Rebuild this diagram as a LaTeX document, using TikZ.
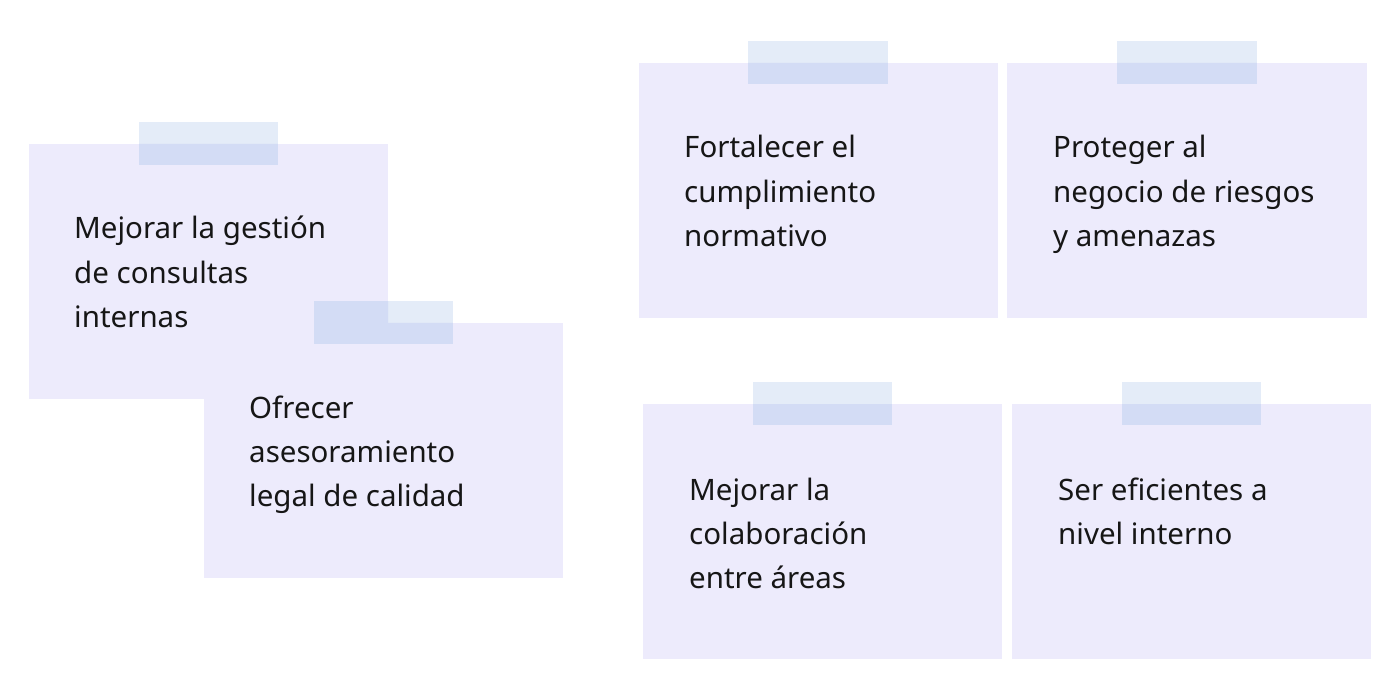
\documentclass[tikz,border=0pt]{standalone}
\usepackage{fontspec}
\setmainfont{Noto Sans}
\definecolor{boxcol}{HTML}{EDEBFC}
\definecolor{tapelight}{HTML}{E4ECF8}
\definecolor{tapedark}{HTML}{D3DCF5}
\definecolor{txtcol}{HTML}{161616}
\begin{document}
\begin{tikzpicture}[x=1pt,y=-1pt,
  card/.style={fill=boxcol,draw=none},
  tapeL/.style={fill=tapelight,draw=none},
  tapeD/.style={fill=tapedark,draw=none},
  lbl/.style={anchor=base west,inner sep=0pt,align=left,text=txtcol,
    font=\fontsize{29.5}{44.3}\selectfont}]
\useasboundingbox[fill=white] (0,0) rectangle (1400,700);
% cards
\path[card] (29,144) rectangle (388,399);
\path[card] (204,323) rectangle (563,578);
\path[card] (639,63) rectangle (998,318);
\path[card] (1007,63) rectangle (1367,318);
\path[card] (643,404) rectangle (1002,659);
\path[card] (1012,404) rectangle (1371,659);
% tapes over white
\path[tapeL] (139,122) rectangle (278,165);
\path[tapeL] (314,301) rectangle (453,344);
\path[tapeL] (748,41) rectangle (888,84);
\path[tapeL] (1117,41) rectangle (1257,84);
\path[tapeL] (753,382) rectangle (892,425);
\path[tapeL] (1122,382) rectangle (1261,425);
% tapes over cards
\begin{scope}
\clip (29,144) rectangle (388,399) (204,323) rectangle (563,578)
      (639,63) rectangle (998,318) (1007,63) rectangle (1367,318)
      (643,404) rectangle (1002,659) (1012,404) rectangle (1371,659);
\path[tapeD] (139,122) rectangle (278,165);
\path[tapeD] (314,301) rectangle (453,344);
\path[tapeD] (748,41) rectangle (888,84);
\path[tapeD] (1117,41) rectangle (1257,84);
\path[tapeD] (753,382) rectangle (892,425);
\path[tapeD] (1122,382) rectangle (1261,425);
\end{scope}
% labels (anchored at baseline of last line)
\node[lbl] (ta) at (74,327.6) {Mejorar la gestión\\de consultas\\internas};
\node[lbl] (tb) at (249,506.6) {Ofrecer\\asesoramiento\\legal de calidad};
\node[lbl] (tc) at (684,246.6) {Fortalecer el\\cumplimiento\\normativo};
\node[lbl] (td) at (1053,246.6) {Proteger al\\negocio de riesgos\\y amenazas};
\node[lbl] (te) at (689,588.6) {Mejorar la\\colaboración\\entre áreas};
\node[lbl] (tf) at (1058,544.3) {Ser eficientes a\\nivel interno};
\end{tikzpicture}
\end{document}
